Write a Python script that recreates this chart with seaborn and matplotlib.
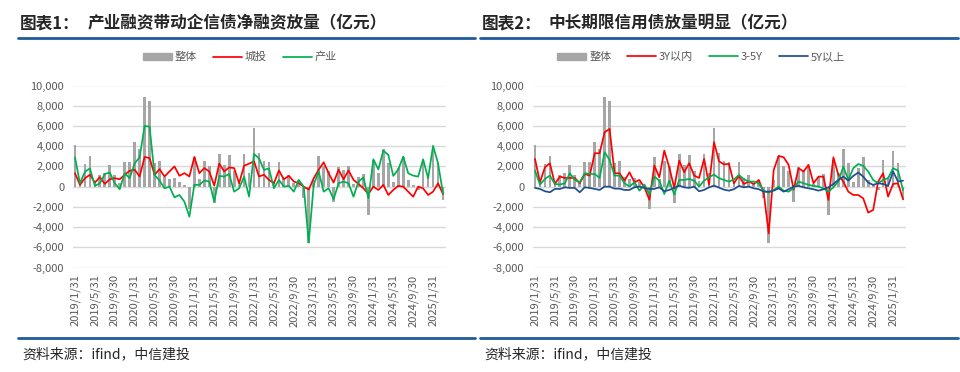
import numpy as np
import pandas as pd
import matplotlib.pyplot as plt
from matplotlib.lines import Line2D
from matplotlib.patches import Patch
from matplotlib.ticker import FuncFormatter, MultipleLocator
import seaborn as sns

# monthly, 2019/1 .. 2025/3 (unit: 亿元)
months = pd.date_range("2019-01-31", periods=75, freq="ME")
month_labels = [f"{d.year}/{d.month}/{d.day}" for d in months]

total = [4100, 300, 2200, 3000, 400, 1100, 1300, 2100, 1100, 400,
         2400, 2400, 4400, 3700, 8850, 8500, 2300, 2500, 1000, 800,
         900, 500, 200, -2200, 2900, 800, 2500, 2000, -1600, 3200,
         2100, 3100, 1500, 600, 3200, 1300, 5800, 3300, 2500, 2400,
         600, 2400, 900, 1100, 400, 700, -1100, -5600, 700, 3000,
         2000, 1500, -1500, 1900, 1600, 2000, 300, 1000, 1200, -2800,
         2600, 1300, 3700, 2300, 500, 1800, 2900, 700, 200, -300,
         2600, 1000, 3500, 2300, -1300]

# chart 1
chengtou = [1330, 170, 830, 1170, 400, 930, 270, 730, 830, 730,
            1170, 1570, 1670, 1000, 2930, 2830, 1170, 1730, 1000, 1500,
            2000, 1070, 1330, 1000, 2930, 1330, 1830, 1500, 100, 2270,
            1500, 1900, 1830, 330, 2070, 2270, 2500, 1000, 1170, 670,
            330, 1600, 730, 1070, 500, 330, 0, -300, 830, 1670,
            2400, 1330, 400, 1670, 730, 1600, 670, 270, -170, -730,
            0, -330, 170, -830, -330, 70, 0, -500, -1000, 0,
            -170, -830, -500, 330, -730]
chanye = [2900, 330, 1480, 1800, 70, 330, 1250, 1390, 330, -260,
          1320, 830, 2300, 2900, 6000, 5930, 1150, 600, -170, 0,
          -1060, -830, -1490, -2970, 170, 170, 600, 500, -1490, 1060,
          990, 1250, -500, -170, 990, -990, 3230, 2800, 1650, 1800,
          -160, 660, 0, 70, -500, 660, 0, -5540, 200, 1500,
          -500, -160, -1250, 330, 500, 330, -1000, 500, 900, -1150,
          2700, 1700, 3560, 3130, 1060, 1700, 2970, 1320, 1090, 990,
          2700, 830, 4030, 2300, -660]

# chart 2
within_3y = [2740, 430, 1910, 2310, 260, 990, 860, 860, 860, 330,
             1250, 1090, 3300, 3300, 5380, 5710, 1320, 1320, 590, 1420,
             430, 660, -70, -1300, 2080, 920, 3560, 1910, -130, 2570,
             1420, 2310, 1090, 860, 2740, 200, 4390, 2500, 2200, 2250,
             330, 1060, 260, 500, 260, 660, -660, -4620, 1650, 3040,
             2900, 2150, -300, 1820, 1490, 2150, 330, 990, 990, -1320,
             2900, 1160, 500, -500, -830, -830, -1160, -2570, -2310, 500,
             1320, -990, 260, 330, -1250]
y3_5 = [1580, 200, 760, 1090, 260, 200, 330, 1320, 660, 430,
        1320, 1250, 1250, 860, 3400, 2640, 1090, 1090, 330, 0,
        430, -400, 200, -790, 990, 590, -730, 590, -790, 660,
        660, 760, 590, 0, 590, 920, 1190, 830, 660, 500,
        700, 1160, 730, 500, 500, 330, -400, -600, -330, 0,
        -400, -500, -150, 500, 330, 170, 70, 0, -170, -500,
        -70, 500, 1980, 660, 1820, 2240, 2050, 1490, 660, 330,
        660, 830, 1820, 1580, -330]
above_5y = [-130, -230, -460, -560, -230, -230, -70, -130, -130, -560,
            -70, -130, -230, -330, 0, 0, -200, -200, -330, -330,
            -70, 0, -130, -230, -230, -70, -460, -330, -130, 100,
            -70, -130, 0, -460, -330, -70, 100, -100, -300, -400,
            -260, 70, -70, 0, -170, -260, -500, -500, -400, -170,
            -500, -260, 0, 70, -70, -170, -260, -400, -260, -70,
            260, 660, 990, 590, 1060, 1390, 990, 400, 170, 330,
            260, 70, 1490, 500, 590]

BAR = "#A6A6A6"
RED = "#FF0000"
GREEN = "#00B050"
BLUE = "#1F4E8C"
RULE = "#1F5C99"
TXT = "#595959"
LW = 1.25

sns.set_style("white")
plt.rcParams["font.family"] = ["Noto Sans CJK SC", "DejaVu Sans"]

df = pd.DataFrame({
    "idx": np.arange(len(total)), "total": total,
    "chengtou": chengtou, "chanye": chanye,
    "within_3y": within_3y, "y3_5": y3_5, "above_5y": above_5y,
})

fig = plt.figure(figsize=(9.6, 3.72), dpi=100)
W, H = 960, 372
ax1 = fig.add_axes([72.5 / W, 104.5 / H, 373 / W, 182 / H])
ax2 = fig.add_axes([532.5 / W, 104.5 / H, 373 / W, 182 / H])


def style_axis(ax):
    ax.set_xlim(-0.5, len(total) - 0.5)
    ax.set_ylim(-8000, 10000)
    ax.yaxis.set_major_locator(MultipleLocator(2000))
    ax.yaxis.set_major_formatter(FuncFormatter(lambda v, _: f"{v:,.0f}"))
    ax.set_xticks(np.arange(0, len(total), 4))
    ax.set_xticklabels(month_labels[::4], rotation=90)
    ax.tick_params(axis="x", length=0, labelsize=8, labelcolor=TXT, pad=5)
    ax.tick_params(axis="y", length=0, labelsize=8, labelcolor=TXT, pad=6)
    ax.grid(axis="y", color="#D9D9D9", lw=1)
    ax.grid(axis="x", visible=False)
    ax.set_axisbelow(True)
    sns.despine(ax=ax, left=True, bottom=True)
    ax.set_xlabel("")
    ax.set_ylabel("")


def bars(ax):
    sns.barplot(data=df, x="idx", y="total", color=BAR, saturation=1,
                width=0.55, errorbar=None, linewidth=0, edgecolor=BAR, ax=ax)


# chart 1
bars(ax1)
sns.lineplot(data=df, x="idx", y="chengtou", color=RED, lw=LW, ax=ax1)
sns.lineplot(data=df, x="idx", y="chanye", color=GREEN, lw=LW, ax=ax1)
style_axis(ax1)

# chart 2
bars(ax2)
sns.lineplot(data=df, x="idx", y="within_3y", color=RED, lw=LW, ax=ax2)
sns.lineplot(data=df, x="idx", y="y3_5", color=GREEN, lw=LW, ax=ax2)
sns.lineplot(data=df, x="idx", y="above_5y", color=BLUE, lw=LW, ax=ax2)
style_axis(ax2)

leg_kw = dict(loc="center", bbox_transform=fig.transFigure, frameon=False,
              fontsize=8, handlelength=2.6, handleheight=0.6, handletextpad=0.3,
              columnspacing=1.4, labelcolor=TXT)
ax1.legend([Patch(color=BAR), Line2D([], [], color=RED, lw=LW),
            Line2D([], [], color=GREEN, lw=LW)],
           ["整体", "城投", "产业"], ncol=3,
           bbox_to_anchor=(240 / W, 1 - 57 / H), **leg_kw)
ax2.legend([Patch(color=BAR), Line2D([], [], color=RED, lw=LW),
            Line2D([], [], color=GREEN, lw=LW), Line2D([], [], color=BLUE, lw=LW)],
           ["整体", "3Y以内", "3-5Y", "5Y以上"], ncol=4,
           bbox_to_anchor=(701 / W, 1 - 57 / H), **leg_kw)

# headers, rules and sources
for x0, x1, num, title, tx in [(18, 475, "图表1：", "产业融资带动企信债净融资放量（亿元）", 88),
                                (480, 958, "图表2：", "中长期限信用债放量明显（亿元）", 548)]:
    fig.text((x0 + 2) / W, 1 - 23 / H, num, fontsize=12, weight="bold", va="center")
    fig.text(tx / W, 1 - 23 / H, title, fontsize=12, weight="bold", va="center")
    fig.add_artist(Line2D([x0 / W, x1 / W], [1 - 37.5 / H] * 2, color=RULE, lw=2))
    fig.add_artist(Line2D([x0 / W, x1 / W], [1 - 337.5 / H] * 2, color=RULE, lw=2))
    fig.text((x0 + 4) / W, 1 - 354 / H, "资料来源：ifind，中信建投", fontsize=10,
             style="italic", va="center", color="#262626")

fig.savefig("out.png", dpi=100)
